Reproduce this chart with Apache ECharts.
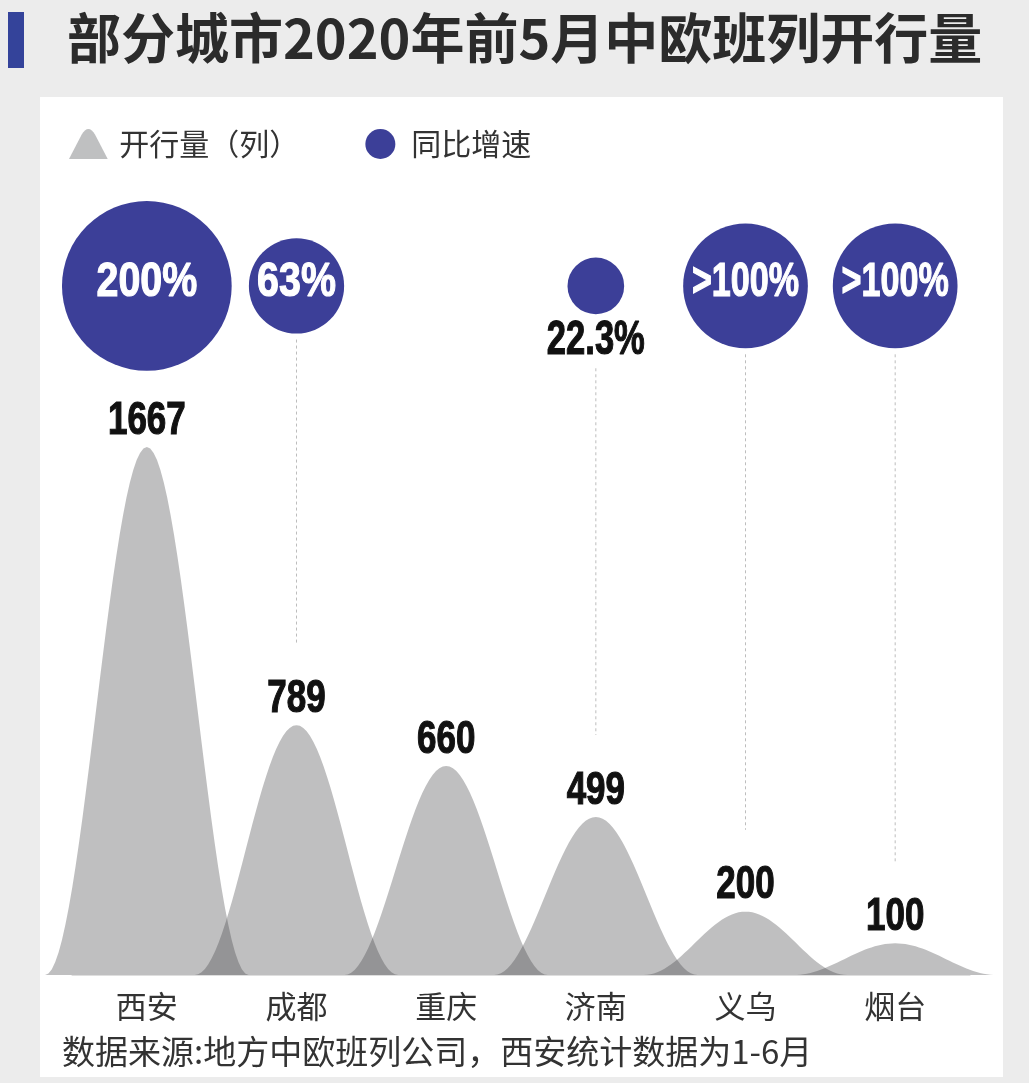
<!DOCTYPE html>
<html><head><meta charset="utf-8">
<script src="https://cdn.jsdelivr.net/npm/echarts@6/dist/echarts.min.js"></script>
<style>html,body{margin:0;padding:0;background:#ececec}#c{width:1029px;height:1083px}</style>
</head><body><div id="c"></div>
<script>
// ---- data ----
const cities = ['西安', '成都', '重庆', '济南', '义乌', '烟台'];
const trains = [1667, 789, 660, 499, 200, 100];
const growthValues = [200, 63, null, 22.3, 108, 108];
const growthLabels = ['200%', '63%', '', '22.3%', '>100%', '>100%'];
const titleText = '部分城市2020年前5月中欧班列开行量';
const sourceNote = '数据来源:地方中欧班列公司，西安统计数据为1-6月';
const seriesNames = ['开行量（列）', '同比增速'];

// ---- layout / style ----
const BUBBLE_ROW = 2176;
const NUM_FONT = "'Liberation Sans',Arial,sans-serif";
const CJK = "'Noto Sans CJK SC','Noto Sans',sans-serif";
const BLUE = '#3c3f98';
const bubbleD = v => 12 * Math.sqrt(v);

const measureCtx = document.createElement('canvas').getContext('2d');
function textW(txt, size) {
  measureCtx.font = 'bold ' + size + 'px ' + NUM_FONT;
  return measureCtx.measureText(txt).width;
}

function bellPoints(cx, by, ty, hw) {
  const pts = [];
  const N = 60;
  for (let k = 0; k <= N; k++) {
    const u = -1 + 2 * k / N;
    const f = (1 + Math.cos(Math.PI * u)) / 2;
    pts.push([cx + u * hw, by - (by - ty) * f]);
  }
  return pts;
}

function numText(txt, x, y, size, sx, valign, color) {
  return {type: 'text', x: x, y: y, scaleX: sx,
    style: {text: txt, x: 0, y: 0, align: 'center', verticalAlign: valign,
      font: 'bold ' + size + 'px ' + NUM_FONT, fill: color, stroke: color, lineWidth: 1.2}};
}

const chart = echarts.init(document.getElementById('c'), null, {renderer: 'canvas'});
const option = {
  animation: false,
  backgroundColor: '#ececec',
  title: {
    text: titleText, left: 62, top: 6,
    textStyle: {fontSize: 54, fontWeight: 'bold', color: '#2b2b2b', fontFamily: CJK}
  },
  legend: {
    left: 64, top: 124, itemWidth: 40, itemHeight: 30, itemGap: 66,
    data: [
      {name: seriesNames[0], icon: 'path://M0,32 L13,7 Q20,-5 27,7 L40,32 Z'},
      {name: seriesNames[1], icon: 'circle'}
    ],
    textStyle: {fontSize: 30, color: '#333', fontFamily: CJK, padding: [0, 0, 0, 6]}
  },
  grid: {left: 72, right: 59, top: 215, bottom: 108},
  xAxis: {
    type: 'category', data: cities,
    axisTick: {show: false},
    axisLine: {lineStyle: {color: '#dedede', width: 1}},
    axisLabel: {fontSize: 31, color: '#333', margin: 16, fontFamily: CJK}
  },
  yAxis: {type: 'value', min: 0, max: 2400, show: false},
  graphic: [
    {type: 'rect', z: -100, shape: {x: 40, y: 97, width: 963, height: 980}, style: {fill: '#ffffff'}},
    {type: 'rect', shape: {x: 8, y: 12, width: 16, height: 56}, style: {fill: '#34439a'}},
    {type: 'text', left: 62, top: 1035, style: {text: sourceNote, font: '33px ' + CJK, fill: '#333'}}
  ],
  series: [
    {
      type: 'custom', name: seriesNames[1] + '_line', silent: true, z: 1,
      data: trains.map((v, i) => [i, v]),
      renderItem(params, api) {
        const i = api.value(0);
        const g = growthValues[i];
        if (g == null) return null;
        const c = api.coord([i, BUBBLE_ROW]);
        const top = api.coord([i, api.value(1)]);
        const d = bubbleD(g);
        let y0 = c[1] + d / 2 + 6;
        if (d < 80) y0 += 48;
        const y1 = top[1] - 82;
        if (y1 - y0 < 20) return null;
        return {type: 'line', shape: {x1: c[0], y1: y0, x2: c[0], y2: y1},
          style: {stroke: '#bdbdbd', lineWidth: 1, lineDash: [3, 3]}};
      }
    },
    {
      type: 'custom', name: seriesNames[0], z: 2,
      itemStyle: {color: '#bfc0c1'},
      data: trains.map((v, i) => [i, v]),
      renderItem(params, api) {
        const i = api.value(0);
        const base = api.coord([i, 0]);
        const top = api.coord([i, api.value(1)]);
        const hw = api.size([1, 0])[0] * 0.68;
        return {type: 'group', children: [
          {type: 'polygon', shape: {points: bellPoints(base[0], base[1], top[1], hw)},
            style: {fill: 'rgba(60,61,63,0.33)'}},
          numText(String(api.value(1)), top[0], top[1] - 3, 46, 0.76, 'bottom', '#111')
        ]};
      }
    },
    {
      type: 'custom', name: seriesNames[1], z: 3,
      itemStyle: {color: BLUE},
      data: growthValues.map((v, i) => v == null ? null : [i, BUBBLE_ROW, v]).filter(Boolean),
      renderItem(params, api) {
        const i = api.value(0);
        const g = api.value(2);
        const c = api.coord([i, BUBBLE_ROW]);
        const d = bubbleD(g);
        const txt = growthLabels[i];
        const size = 48;
        const children = [{type: 'circle', shape: {cx: c[0], cy: c[1], r: d / 2}, style: {fill: BLUE}}];
        if (d >= 80) {
          const sx = Math.min(0.82, d * 0.86 / textW(txt, size));
          children.push(numText(txt, c[0], c[1] - 3, size, sx, 'middle', '#fff'));
        } else {
          children.push(numText(txt, c[0], c[1] + d / 2 + 2, size, 0.72, 'top', '#111'));
        }
        return {type: 'group', children: children};
      }
    }
  ]
};
chart.setOption(option);
</script></body></html>
